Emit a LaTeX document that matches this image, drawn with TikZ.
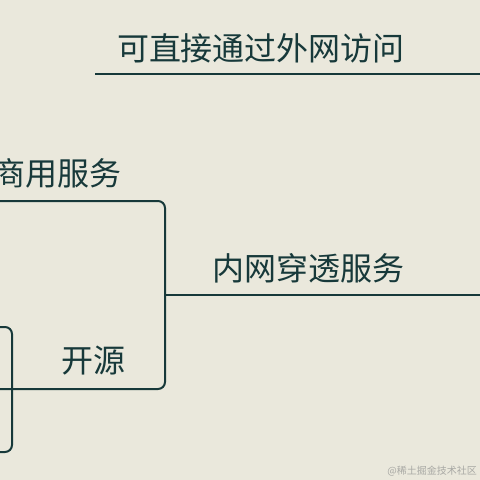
\documentclass[tikz,border=0pt]{standalone}
\usepackage{fontspec}
\newfontfamily\cjk{Noto Sans CJK SC}
\definecolor{paper}{HTML}{EAE8DC}
\definecolor{ink}{HTML}{17393A}
\definecolor{mark}{HTML}{A8A8A4}
\begin{document}
\begin{tikzpicture}[x=1pt,y=-1pt,
        every node/.style={inner sep=0pt,text=ink,font=\cjk\fontsize{32}{32}\selectfont},
        link/.style={draw=ink,line width=2pt,rounded corners=7pt}]
    \useasboundingbox (0,0) rectangle (480,480);
    \fill[paper] (0,0) rectangle (480,480);
    \clip (0,0) rectangle (480,480);

    \node (remote) at (261,48) {可直接通过外网访问};
    \coordinate (remoteL) at (95,74);
    \coordinate (remoteR) at (480,74);

    \node (commercial) at (58,173) {商用服务};
    \coordinate (comL) at (-5,201);
    \coordinate (comC) at (165,201);

    \node (tunnel) at (308,268) {内网穿透服务};
    \coordinate (tunL) at (165,295);
    \coordinate (tunR) at (480,295);

    \node (oss) at (93,361) {开源};
    \coordinate (ossL) at (-5,389);
    \coordinate (ossC) at (165,389);

    \coordinate (subT) at (-5,327);
    \coordinate (subTR) at (12,327);
    \coordinate (subBR) at (12,452);
    \coordinate (subB) at (-5,452);

    \node[anchor=south east,text=mark,font=\cjk\fontsize{10}{10}\selectfont]
        (wm) at (477,476) {@稀土掘金技术社区};

    \draw[link] (remoteL) -- (remoteR);
    \draw[link] (comL) -- (comC) -- (ossC) -- (ossL);
    \draw[link] (tunL) -- (tunR);
    \draw[link] (subT) -- (subTR) -- (subBR) -- (subB);
\end{tikzpicture}
\end{document}
